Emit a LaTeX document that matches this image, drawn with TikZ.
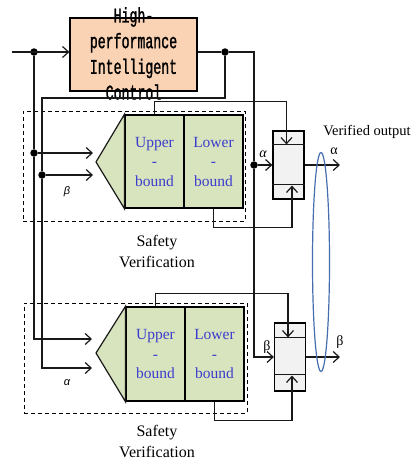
\documentclass[tikz,border=0pt]{standalone}
\usepackage{fontspec}
\setmainfont{Liberation Serif}
\newfontfamily\hpcfont[FakeStretch=0.63,FakeBold=1.2]{Liberation Mono}
\newfontfamily\lblfont{Liberation Sans}
\usetikzlibrary{arrows.meta,calc}
\definecolor{hpcfill}{RGB}{250,210,180}
\definecolor{svfill}{RGB}{215,228,189}
\definecolor{muxfill}{RGB}{242,242,242}
\definecolor{bndblue}{RGB}{60,60,205}
\definecolor{ellblue}{RGB}{70,110,175}
\tikzset{
  wire/.style={line width=1.2pt, black!90},
  sig/.style={wire, -{Straight Barb[length=6pt,width=11pt]}},
  dot/.style={circle, fill=black, inner sep=0pt, minimum size=7.5pt},
  hpcbox/.style={draw, line width=1.2pt, fill=hpcfill, minimum width=127pt, minimum height=73pt},
  hpctext/.style={align=center, font=\hpcfont\fontsize{21}{25.7}\selectfont},
  svframe/.style={draw, dashed, dash pattern=on 4pt off 3pt, line width=1pt, inner sep=0pt},
  bound/.style={draw, line width=1.2pt, fill=svfill, minimum width=59pt, minimum height=93pt,
                inner sep=0pt, align=center, text=bndblue, font=\fontsize{15.5}{19.5}\selectfont},
  mux/.style={draw, line width=1.2pt, fill=muxfill, minimum width=31pt, minimum height=68pt, inner sep=0pt},
  svlabel/.style={align=center, font=\fontsize{16}{21}\selectfont},
  greek/.style={font=\fontsize{14}{14}\selectfont, inner sep=0pt},
  sidegreek/.style={font=\lblfont\itshape\fontsize{11}{11}\selectfont, inner sep=0pt},
}
\begin{document}
\begin{tikzpicture}[x=1pt,y=-1pt]
  \useasboundingbox (0,0) rectangle (415,461);

  % verification frames
  \node[svframe, minimum width=222pt, minimum height=110pt] (sv1) at (134,166) {};
  \node[svframe, minimum width=223pt, minimum height=110pt] (sv2) at (135.5,358) {};
  \node[svlabel] (svl1) at (157,251) {Safety\\Verification};
  \node[svlabel] (svl2) at (157,441) {Safety\\Verification};

  % controller
  \node[hpcbox] (hpc) at (133.5,54.5) {};
  \node[hpctext] (hpct) at (133.5,53.5) {High-\\performance\\Intelligent\\Control};

  % bound blocks
  \node[bound] (up1) at (154.5,161.5) {Upper\\-\\bound};
  \node[bound] (lo1) at (213.5,161.5) {Lower\\-\\bound};
  \filldraw[wire, fill=svfill] (up1.north west) -- (96,162) -- (up1.south west) -- cycle;
  \node[bound, minimum height=94pt] (up2) at (155.5,354) {Upper\\-\\bound};
  \node[bound, minimum height=94pt] (lo2) at (214.5,354) {Lower\\-\\bound};
  \filldraw[wire, fill=svfill] (up2.north west) -- (96,353) -- (up2.south west) -- cycle;

  % selectors
  \node[mux] (m1) at (288.5,165) {};
  \node[mux] (m2) at (290,357) {};
  \draw[wire] ($(m1.north west)+(0,14)$) -- ($(m1.north east)+(0,14)$);
  \draw[wire] ($(m1.south west)+(0,-15)$) -- ($(m1.south east)+(0,-15)$);
  \draw[wire] ($(m2.north west)+(0,15)$) -- ($(m2.north east)+(0,15)$);
  \draw[wire] ($(m2.south west)+(0,-17)$) -- ($(m2.south east)+(0,-17)$);

  % junctions
  \node[dot] (d0) at (34,52) {};
  \node[dot] (d1) at (225,52) {};
  \node[dot] (d2) at (34,153) {};
  \node[dot] (d3) at (42,175) {};
  \node[dot] (d4) at (254,165) {};
  \coordinate (src) at (12,52);
  \coordinate (a1) at (93,153);
  \coordinate (b1) at (93,175);
  \coordinate (a2) at (92,339);
  \coordinate (b2) at (92,368);
  \coordinate (o1) at (340,165);
  \coordinate (o2) at (340,357);

  % input and controller output
  \draw[sig] (src) -- (src -| hpc.west);
  \draw[wire] (d0) -- (d2);
  \draw[sig] (d2) -- (a1);
  \draw[sig] (d2) |- (a2);
  \draw[wire] (hpc.east |- d1) -- (d1) -- (d1 -| d4) -- (d4);
  \draw[wire] (d1) |- (d3 |- 0,98) -- (d3);
  \draw[sig] (d3) -- (b1);
  \draw[sig] (d3) |- (b2);
  \draw[sig] (d4) -- (m1.west);
  \draw[sig] (d4) |- (m2.west);

  % bound feedback
  \draw[sig] (up1.north) -- ++(0,-13) -| ($(m1.north)+(-2,14)$);
  \draw[sig] (lo1.south) -- ++(0,19) -| ($(m1.south)+(3.5,-14)$);
  \draw[sig] (up2.north) -- ++(0,-13) -| ($(m2.north)+(-2,15)$);
  \draw[sig] (lo2.south) -- ++(0,19) -| ($(m2.south)+(2,-16)$);

  % outputs
  \draw[sig] (m1.east) -- (o1);
  \draw[sig] (m2.east) -- (o2);
  \draw[ellblue, line width=1.2pt] (321,262) ellipse [x radius=8.5, y radius=109.5];
  \node[font=\fontsize{14.5}{14.5}\selectfont] (vo) at (367,132) {Verified output};

  % labels
  \node[greek] (la1) at (334,151) {α};
  \node[greek] (lb2) at (340,342) {β};
  \node[greek, font=\itshape\fontsize{14}{14}\selectfont] (ia1) at (263,154) {α};
  \node[greek] (ib2) at (267,347) {β};
  \node[sidegreek] (sb1) at (67,192) {β};
  \node[sidegreek] (sa2) at (67,383) {α};
\end{tikzpicture}
\end{document}
